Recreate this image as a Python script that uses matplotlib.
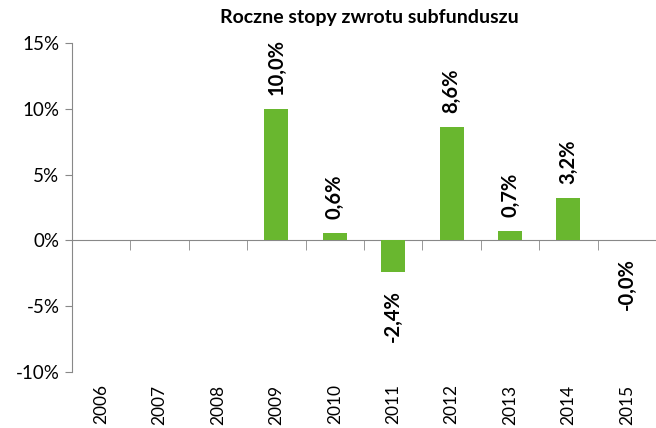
import matplotlib.pyplot as plt
import numpy as np

years = ["2006", "2007", "2008", "2009", "2010", "2011", "2012", "2013", "2014", "2015"]
returns = [np.nan, np.nan, np.nan, 10.0, 0.6, -2.4, 8.6, 0.7, 3.2, -0.004]
labels = ["", "", "", "10,0%", "0,6%", "-2,4%", "8,6%", "0,7%", "3,2%", "-0,0%"]

plt.rcParams['font.family'] = ['Lato', 'DejaVu Sans']

fig = plt.figure(figsize=(6.56, 4.28), dpi=100)
ax = fig.add_axes([72/656, 1 - 372/428, 1 - 72/656, (372 - 43)/428])

x = np.arange(len(years))
ax.bar(x, returns, width=0.41, color="#69b72f", linewidth=0, zorder=3)

# value labels, rotated, above positive / below negative bars
for xi, v, lab in zip(x, returns, labels):
    if lab == "":
        continue
    if v >= 0:
        ax.annotate(lab, (xi, v), xytext=(0, 10), textcoords="offset points",
                    rotation=90, ha="center", va="bottom", fontsize=14.5, fontweight="bold")
    else:
        ax.annotate(lab, (xi, v), xytext=(0, -13), textcoords="offset points",
                    rotation=90, ha="center", va="top", fontsize=14.5, fontweight="bold")

ax.set_ylim(-10, 15)
ax.set_xlim(-0.5, len(years) - 0.5)
ax.set_yticks([-10, -5, 0, 5, 10, 15])
ax.set_yticklabels(["-10%", "-5%", "0%", "5%", "10%", "15%"], fontsize=13.5)
ax.tick_params(axis="y", length=5, color="#888888", pad=4)

for s in ["top", "right"]:
    ax.spines[s].set_visible(False)
ax.spines["left"].set_color("#888888")
ax.spines["bottom"].set_position(("data", 0))
ax.spines["bottom"].set_color("#888888")

ax.set_xticks([])
ax.set_xticks(np.arange(len(years) + 1) - 0.5, minor=True)
ax.tick_params(axis="x", which="minor", length=7, color="#888888", direction="out")

# year labels sit under the plot, not on the zero line
sec = ax.secondary_xaxis(0.0)
sec.set_xticks(x)
sec.set_xticklabels(years, rotation=90, fontsize=12.5)
sec.tick_params(length=0, pad=9)
sec.spines["bottom"].set_visible(False)

fig.text(0.5625, 0.96, "Roczne stopy zwrotu subfunduszu", ha="center", va="center",
         fontsize=14, fontweight="bold")

plt.savefig("out.png", dpi=100)
